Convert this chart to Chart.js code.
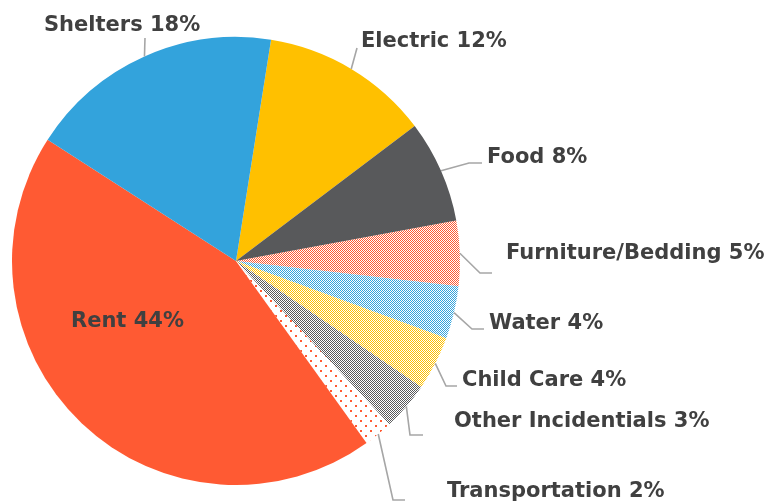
<!DOCTYPE html>
<html>
<head>
<meta charset="utf-8">
<script src="https://cdn.jsdelivr.net/npm/chart.js@4.4.1/dist/chart.umd.min.js"></script>
<style>
  html, body { margin: 0; padding: 0; background: #ffffff; }
  canvas { display: block; }
</style>
</head>
<body>
<canvas id="c" width="781" height="501"></canvas>
<script>
// ---- data ----
const categories = ["Electric", "Food", "Furniture/Bedding", "Water", "Child Care",
                    "Other Incidentials", "Transportation", "Rent", "Shelters"];
const shares = [12.2, 7.4, 4.7, 3.8, 3.9, 3.5, 2.1, 44.0, 18.4];
const shownPercents = [12, 8, 5, 4, 4, 3, 2, 44, 18];

// ---- styling ----
const ORANGE = "#FF5A33", BLUE = "#33A3DC", YELLOW = "#FFC000", GREY = "#58595B";
const TEXT = "#404040", LEADER = "#A6A6A6";

function checker(color) {
  const c = document.createElement("canvas");
  c.width = 2; c.height = 2;
  const g = c.getContext("2d");
  g.fillStyle = color;
  g.fillRect(0, 0, 1, 1);
  g.fillRect(1, 1, 1, 1);
  return g.createPattern(c, "repeat");
}
function dots(color) {
  const c = document.createElement("canvas");
  c.width = 10; c.height = 10;
  const g = c.getContext("2d");
  g.fillStyle = color;
  g.fillRect(0, 0, 2, 2);
  g.fillRect(5, 5, 2, 2);
  return g.createPattern(c, "repeat");
}

const fills = [YELLOW, GREY, checker(ORANGE), checker(BLUE), checker(YELLOW),
               checker(GREY), dots(ORANGE), ORANGE, BLUE];

// label layout: text left x, baseline y, leader points after the arc anchor
const labelLayout = [
  { x: 361, y: 47,  leader: [[357, 48]] },
  { x: 487, y: 163, leader: [[469, 163], [482, 163]] },
  { x: 506, y: 259, leader: [[480, 273], [492, 273]] },
  { x: 489, y: 329, leader: [[472, 329], [484, 329]] },
  { x: 462, y: 386, leader: [[446, 386], [457, 386]] },
  { x: 454, y: 427, leader: [[410, 435], [423, 435]] },
  { x: 447, y: 497, leader: [[393, 500], [405, 500]] },
  { x: 71,  y: 327, leader: null, inside: true },
  { x: 44,  y: 31,  leader: [[145, 38]] }
];

const labelPlugin = {
  id: "pieLabels",
  afterDraw(chart) {
    const ctx = chart.ctx;
    const arcs = chart.getDatasetMeta(0).data;
    ctx.save();
    arcs.forEach((arc, i) => {
      const L = labelLayout[i];
      if (L.leader) {
        const p = arc.getProps(["x", "y", "startAngle", "endAngle", "outerRadius"], true);
        const mid = (p.startAngle + p.endAngle) / 2;
        const ax = p.x + Math.cos(mid) * p.outerRadius;
        const ay = p.y + Math.sin(mid) * p.outerRadius;
        ctx.beginPath();
        ctx.moveTo(ax, ay);
        L.leader.forEach(pt => ctx.lineTo(pt[0], pt[1]));
        ctx.strokeStyle = LEADER;
        ctx.lineWidth = 1.6;
        ctx.stroke();
      }
      ctx.fillStyle = TEXT;
      ctx.font = "bold 21px 'DejaVu Sans'";
      ctx.textAlign = "left";
      ctx.textBaseline = "alphabetic";
      ctx.fillText(categories[i] + " " + shownPercents[i] + "%", L.x, L.y);
    });
    ctx.restore();
  }
};

new Chart(document.getElementById("c"), {
  type: "pie",
  data: {
    labels: categories,
    datasets: [{
      data: shares,
      backgroundColor: fills,
      borderWidth: 0,
      hoverOffset: 0,
      offset: 0
    }]
  },
  options: {
    responsive: false,
    animation: false,
    rotation: 9,
    layout: { padding: { left: 12, top: 37, right: 321, bottom: 16 } },
    plugins: { legend: { display: false }, tooltip: { enabled: false } },
    events: []
  },
  plugins: [labelPlugin]
});
</script>
</body>
</html>
